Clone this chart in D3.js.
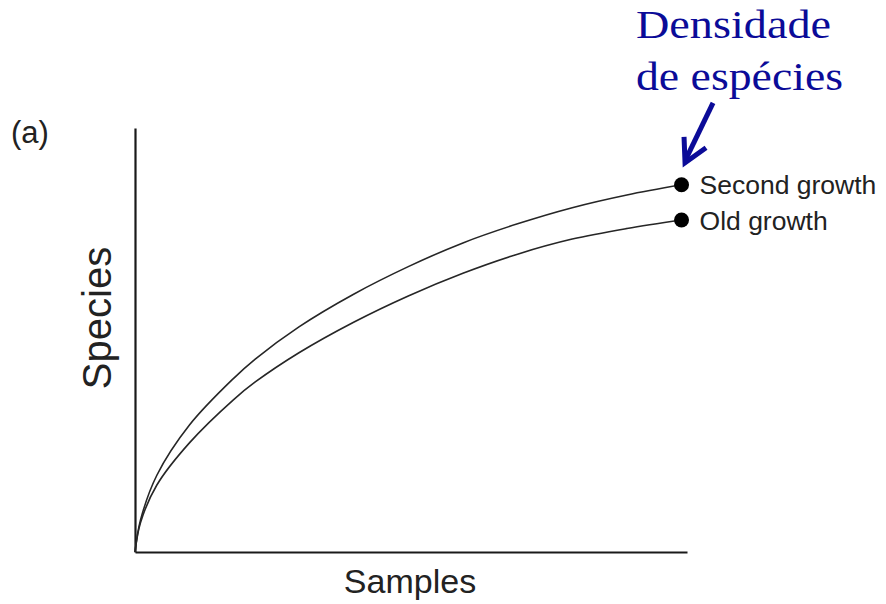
<!DOCTYPE html>
<html>
<head>
<meta charset="utf-8">
<script src="https://cdn.jsdelivr.net/npm/d3@7/dist/d3.min.js"></script>
<style>
  html, body { margin: 0; padding: 0; background: #fff; }
  svg { display: block; }
</style>
</head>
<body>
<svg id="chart" width="886" height="604"></svg>
<script>
// Species accumulation (rarefaction) curves
const samples      = [0, 1, 4, 10, 18, 22, 30, 40, 50, 60, 70, 80, 90, 100];
const secondGrowth = [0, 7.5, 18.1, 30.0, 40.9, 45.5, 53.1, 60.8, 67.3, 72.9, 77.4, 81.2, 84.2, 86.6];
const oldGrowth    = [0, 6.9, 15.8, 25.8, 35.9, 40.1, 47.0, 54.2, 60.4, 65.75, 70.25, 73.8, 76.3, 78.3];
const seriesNames  = ["Second growth", "Old growth"];
const panelLabel   = "(a)";
const xTitle       = "Samples";
const yTitle       = "Species";
const noteLines    = ["Densidade", "de espécies"];

const svg = d3.select("#chart");
const ink = "#1a1a1a";
const noteColor = "#0b0b98";

const x = d3.scaleLinear().domain([0, 101]).range([135, 687]);
const y = d3.scaleLinear().domain([0, 100]).range([552, 128]);

// axes: plain lines, no ticks
const xAxis = svg.append("g")
  .attr("transform", `translate(0,${y(0)})`)
  .call(d3.axisBottom(x).tickValues([]).tickSizeOuter(0));
const yAxis = svg.append("g")
  .attr("transform", `translate(${x(0)},0)`)
  .call(d3.axisLeft(y).tickValues([]).tickSizeOuter(0));
[xAxis, yAxis].forEach(g => g.select(".domain")
  .attr("stroke", ink).attr("stroke-width", 2.2));

const series = [
  { name: seriesNames[0], values: secondGrowth },
  { name: seriesNames[1], values: oldGrowth }
];

const line = d3.line()
  .x((d, i) => x(samples[i]))
  .y(d => y(d))
  .curve(d3.curveCatmullRom.alpha(0.5));

svg.append("g").selectAll("path")
  .data(series)
  .join("path")
  .attr("d", d => line(d.values))
  .attr("fill", "none")
  .attr("stroke", "#262626")
  .attr("stroke-width", 1.6);

const last = samples.length - 1;

// end points and their labels
svg.append("g").selectAll("circle")
  .data(series)
  .join("circle")
  .attr("cx", x(samples[last]))
  .attr("cy", d => y(d.values[last]))
  .attr("r", 7.5)
  .attr("fill", "#000");

svg.append("g").selectAll("text")
  .data(series)
  .join("text")
  .attr("x", x(samples[last]) + 18)
  .attr("y", d => y(d.values[last]) + 9.5)
  .attr("font-family", "'Liberation Sans', Arial, sans-serif")
  .attr("font-size", 26.5)
  .attr("fill", "#222")
  .text(d => d.name);

// panel letter and axis titles
svg.append("text")
  .attr("x", 11).attr("y", 143)
  .attr("font-family", "'Liberation Sans', Arial, sans-serif")
  .attr("font-size", 31)
  .attr("fill", "#222")
  .text(panelLabel);

svg.append("text")
  .attr("x", 410).attr("y", 593)
  .attr("text-anchor", "middle")
  .attr("font-family", "'Liberation Sans', Arial, sans-serif")
  .attr("font-size", 34)
  .attr("fill", "#222")
  .text(xTitle);

svg.append("text")
  .attr("transform", "translate(111,318) rotate(-90)")
  .attr("text-anchor", "middle")
  .attr("font-family", "'Liberation Sans', Arial, sans-serif")
  .attr("font-size", 40)
  .attr("fill", "#222")
  .text(yTitle);

// annotation text with arrow to the upper curve's end point
const note = svg.append("g")
  .attr("font-family", "'Liberation Serif', 'Times New Roman', serif")
  .attr("font-size", 39)
  .attr("fill", noteColor);
note.append("text").attr("x", 636).attr("y", 38)
  .attr("textLength", 195).attr("lengthAdjust", "spacingAndGlyphs")
  .text(noteLines[0]);
note.append("text").attr("x", 636).attr("y", 90)
  .attr("textLength", 207).attr("lengthAdjust", "spacingAndGlyphs")
  .text(noteLines[1]);

const tx = x(samples[last]), ty = y(secondGrowth[last]);
const arrow = svg.append("g")
  .attr("fill", "none")
  .attr("stroke", noteColor)
  .attr("stroke-width", 5);
arrow.append("path")
  .attr("d", `M${tx + 31.5},${ty - 82} L${tx + 4},${ty - 25}`);
arrow.append("path")
  .attr("stroke-linejoin", "miter")
  .attr("d", `M${tx + 2.5},${ty - 48} L${tx + 3.5},${ty - 22} L${tx + 24.5},${ty - 37}`);
</script>
</body>
</html>
